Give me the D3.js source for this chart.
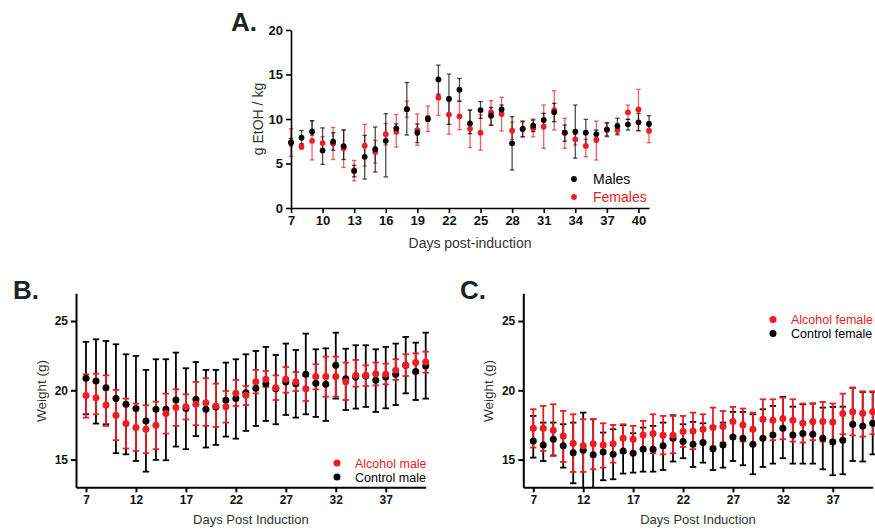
<!DOCTYPE html>
<html><head><meta charset="utf-8">
<script src="https://cdn.jsdelivr.net/npm/d3@7"></script>
<style>
body{margin:0;background:#fff;}
svg{display:block;font-family:"Liberation Sans",Arial,sans-serif;}
</style></head>
<body><svg id="c" width="875" height="531"></svg>
<script>
// ---------- Panel A data ----------
const daysA = [7,8,9,10,11,12,13,14,15,16,17,18,19,20,21,22,23,24,25,26,27,28,29,30,31,32,33,34,35,36,37,38,39,40,41];
const malesMean = [7.35,7.9,8.6,6.45,7.45,6.95,4.15,5.75,6.6,7.55,8.95,11.1,8.45,10.0,14.45,12.25,13.3,9.5,11.0,10.37,11.08,7.27,8.88,9.25,9.89,10.75,8.46,8.58,8.46,8.31,8.84,9.21,9.4,9.63,9.44];
const malesHi = [7.8,8.7,9.8,9.0,8.45,8.75,4.8,8.15,9.1,10.6,9.45,14.1,9.45,10.35,16.05,15.05,14.55,11.0,11.95,11.3,11.57,10.26,9.7,9.89,10.64,11.76,9.33,11.57,9.96,8.76,9.59,10.08,9.96,10.64,10.37];
const malesLo = [7.0,7.2,8.2,4.9,6.5,5.45,3.5,3.25,4.05,3.5,8.35,8.2,7.35,9.75,12.7,9.4,12.0,8.35,10.07,9.3,10.63,4.27,8.0,8.58,9.14,9.7,7.5,5.6,6.88,7.83,8.09,8.31,8.76,8.69,8.46];
const femalesMean = [7.4,6.9,7.55,7.3,7.25,6.7,4.25,7.0,6.3,8.3,8.6,11.1,8.75,10.1,12.4,10.5,10.3,8.9,8.46,10.75,10.56,8.69,8.9,8.95,9.14,11.0,8.46,7.72,6.97,7.64,8.76,8.76,10.75,11.08,8.69];
const femalesHi = [8.9,7.2,9.8,8.0,9.05,8.8,5.35,9.4,7.6,9.5,10.5,12.0,10.55,11.45,12.8,12.5,12.0,11.0,10.45,12.06,12.44,9.66,9.8,10.0,11.57,13.18,10.08,8.31,7.72,9.77,9.5,9.5,11.57,13.33,9.7];
const femalesLo = [5.8,6.6,5.4,6.7,5.45,4.55,3.05,4.7,5.05,7.1,6.85,10.2,7.05,8.6,10.4,8.3,8.8,6.8,6.52,9.3,8.65,7.72,8.0,8.0,6.7,8.76,6.7,7.08,5.77,5.39,8.0,8.2,9.96,8.69,7.34];
const ticksAx = [7,10,13,16,19,22,25,28,31,34,37,40];
const ticksAy = [0,5,10,15,20];

// ---------- Panel B data ----------
const daysB = daysA;
const ctrlMaleMean = [20.87,20.67,20.19,19.4,18.99,18.68,17.79,18.63,18.63,19.3,18.68,19.35,18.63,18.8,19.28,19.4,19.83,20.14,20.48,20.12,20.6,20.48,21.15,20.5,20.43,21.8,20.84,20.96,21.03,20.72,20.96,21.15,21.8,21.35,21.75];
const ctrlMaleHi = [23.5,23.68,23.56,23.32,22.6,22.48,21.47,22.24,22.24,22.72,21.59,22.04,21.47,21.47,22.0,22.24,22.6,22.84,23.13,22.55,23.37,22.91,24.09,22.96,23.03,24.16,23.0,23.25,23.25,22.96,23.13,23.37,23.85,23.44,24.16];
const ctrlMaleLo = [18.27,17.6,17.55,15.46,15.38,14.9,14.13,14.98,14.95,15.94,15.75,16.7,15.87,16.06,16.66,16.51,17.07,17.43,17.79,17.55,18.22,18.03,18.27,18.08,17.79,19.4,18.58,18.68,18.8,18.44,18.7,18.94,19.78,19.3,19.4];
const alcMaleMean = [19.62,19.47,18.94,18.2,17.6,17.31,17.19,17.48,18.32,18.75,18.82,18.99,19.11,18.87,18.82,19.78,19.64,20.62,20.79,20.19,20.79,20.62,20.12,20.99,20.99,20.99,20.62,21.08,21.08,21.2,21.15,21.44,21.8,22.0,22.04];
const alcMaleHi = [21.15,21.2,21.08,20.02,19.4,19.04,18.92,19.18,19.76,20.07,19.71,20.6,20.87,20.48,19.95,20.75,20.31,21.47,21.39,21.08,21.68,21.32,21.03,21.88,22.43,22.43,22.0,22.19,21.8,22.0,21.92,22.24,22.6,22.67,22.79];
const alcMaleLo = [18.03,18.27,17.43,16.4,15.8,15.62,15.46,15.75,16.88,17.43,17.9,17.48,17.43,17.36,17.67,18.87,18.94,19.78,20.24,19.3,19.83,19.95,19.23,20.07,19.54,19.54,19.3,20.26,20.31,20.36,20.43,20.75,21.03,21.27,21.27];

// ---------- Panel C data ----------
const daysC = daysA;
const ctrlFemMean = [16.35,16.06,16.47,15.99,15.5,15.67,15.34,15.55,15.38,15.62,15.46,15.75,15.75,15.99,16.54,16.3,16.11,16.23,15.79,16.06,16.63,16.54,16.11,16.54,16.78,17.26,16.78,16.88,16.83,16.54,16.27,16.39,17.55,17.43,17.62];
const ctrlFemHi = [18.15,17.67,17.67,17.55,17.67,18.39,17.91,16.95,17.19,17.48,16.9,17.31,17.43,17.67,18.2,17.55,17.72,17.62,17.43,17.67,18.44,18.44,18.27,18.63,18.87,19.52,18.82,18.99,19.04,18.75,18.8,18.82,20.19,19.88,19.88];
const ctrlFemLo = [15.14,14.9,15.3,14.42,13.29,12.62,12.62,13.51,13.58,13.99,14.06,14.13,14.13,14.25,14.86,15.1,14.47,14.78,14.25,14.42,14.9,14.59,13.94,14.47,14.71,15.1,14.71,14.71,14.71,14.3,13.87,13.94,14.9,14.86,15.38];
const alcFemMean = [17.26,17.26,17.12,16.71,16.18,15.99,16.15,16.06,16.15,16.54,16.47,16.78,16.88,16.75,16.75,17.02,17.07,17.19,17.31,17.38,17.74,17.5,17.19,17.91,17.84,17.96,17.84,17.62,17.74,17.74,17.72,18.32,18.46,18.34,18.46];
const alcFemHi = [18.63,18.87,18.99,18.51,18.27,17.91,17.91,17.62,17.5,17.55,17.43,17.79,18.27,18.15,18.15,18.15,18.39,18.27,18.75,18.51,18.8,18.68,18.39,19.35,19.35,19.47,19.35,19.04,19.06,19.16,19.04,19.76,20.19,19.93,19.93];
const alcFemLo = [15.87,15.62,15.26,14.83,14.11,14.11,14.3,14.42,14.78,15.5,15.5,15.75,15.46,15.38,15.46,15.91,15.75,16.11,15.94,16.23,16.71,16.3,16.06,16.47,16.4,16.47,16.3,16.23,16.4,16.3,16.4,16.83,16.75,16.66,16.83];
const ticksBCx = [7,12,17,22,27,32,37];
const ticksBCy = [15,20,25];

const RED = "#ec1c24", BLACK = "#000";
const svg = d3.select("#c");

function series(days, mean, lo, hi){ return days.map((d,i)=>({d, m:mean[i], lo:lo[i], hi:hi[i]})); }

function drawBars(g, data, x, y, color, cap, sw, op, clipBottom){
  const gg = g.append("g").attr("stroke", color).attr("stroke-width", sw).attr("stroke-opacity", op).attr("fill","none");
  data.forEach(p=>{
    const lo = clipBottom!==undefined ? Math.max(p.lo, clipBottom) : p.lo;
    gg.append("line").attr("x1", x(p.d)).attr("x2", x(p.d)).attr("y1", y(lo)).attr("y2", y(p.hi));
    gg.append("line").attr("x1", x(p.d)-cap).attr("x2", x(p.d)+cap).attr("y1", y(p.hi)).attr("y2", y(p.hi));
    if (clipBottom===undefined || p.lo > clipBottom)
      gg.append("line").attr("x1", x(p.d)-cap).attr("x2", x(p.d)+cap).attr("y1", y(p.lo)).attr("y2", y(p.lo));
  });
}
function drawPts(g, data, x, y, color, r){
  g.append("g").selectAll("circle").data(data).join("circle")
    .attr("cx", p=>x(p.d)).attr("cy", p=>y(p.m)).attr("r", r).attr("fill", color);
}
function styleAxis(ax, fs, sw){
  ax.select(".domain").attr("stroke","#000").attr("stroke-width", sw);
  ax.selectAll(".tick line").attr("stroke","#000").attr("stroke-width", sw);
  ax.selectAll(".tick text").attr("fill","#111").attr("font-weight","bold").attr("font-size", fs)
    .attr("font-family","'Liberation Sans',Arial,sans-serif");
}

// ================= Panel A =================
{
  const x = d3.scaleLinear().domain([7,41]).range([291,649]);
  const y = d3.scaleLinear().domain([0,20]).range([208,30]);
  const g = svg.append("g");
  const m = series(daysA, malesMean, malesLo, malesHi);
  const f = series(daysA, femalesMean, femalesLo, femalesHi);
  drawBars(g, f, x, y, RED, 2.2, 1.3, 0.7);
  drawBars(g, m, x, y, BLACK, 2.2, 1.3, 0.7);
  drawPts(g, f, x, y, RED, 2.9);
  drawPts(g, m, x, y, BLACK, 2.9);
  const ax = svg.append("g").attr("transform","translate(0,208)")
    .call(d3.axisBottom(x).tickValues(ticksAx).tickSize(5).tickPadding(3).tickSizeOuter(0));
  styleAxis(ax, 13, 1.6);
  const ay = svg.append("g").attr("transform","translate(291,0)")
    .call(d3.axisLeft(y).tickValues(ticksAy).tickSize(5).tickPadding(3).tickSizeOuter(0));
  styleAxis(ay, 13, 1.6);
  svg.append("text").attr("x",470).attr("y",248).attr("text-anchor","middle").attr("font-size",14).attr("fill","#333").text("Days post-induction");
  svg.append("text").attr("transform","translate(263,119) rotate(-90)").attr("text-anchor","middle").attr("font-size",14).attr("fill","#333").text("g EtOH / kg");
  svg.append("text").attr("x",231).attr("y",31).attr("font-size",26).attr("font-weight","bold").attr("fill","#222").text("A.");
  // legend
  svg.append("circle").attr("cx",574).attr("cy",179).attr("r",2.9).attr("fill",BLACK);
  svg.append("text").attr("x",593).attr("y",184).attr("font-size",14).attr("fill","#000").text("Males");
  svg.append("circle").attr("cx",574).attr("cy",197).attr("r",2.9).attr("fill",RED);
  svg.append("text").attr("x",593).attr("y",202).attr("font-size",14).attr("fill",RED).text("Females");
}

// ================= Panels B & C =================
function weightPanel(x0, x1, letter, lx, ctrl, alc, legend){
  const x = d3.scaleLinear().domain([6,41]).range([x0,x1]);
  const y = d3.scaleLinear().domain([13,27]).range([487.3,293.3]);
  const g = svg.append("g");
  drawBars(g, ctrl, x, y, BLACK, 3.2, 1.8, 1, 13);
  drawBars(g, alc, x, y, RED, 3.2, 1.8, 1, 13);
  drawPts(g, ctrl, x, y, BLACK, 3.5);
  drawPts(g, alc, x, y, RED, 3.5);
  const ax = svg.append("g").attr("transform","translate(0,487.3)")
    .call(d3.axisBottom(x).tickValues(ticksBCx).tickSize(5).tickPadding(3).tickSizeOuter(0));
  styleAxis(ax, 12, 2);
  const ay = svg.append("g").attr("transform",`translate(${x0},0)`)
    .call(d3.axisLeft(y).tickValues(ticksBCy).tickSize(5).tickPadding(3).tickSizeOuter(0));
  styleAxis(ay, 12, 2);
  svg.append("text").attr("x",(x0+x1)/2).attr("y",524).attr("text-anchor","middle").attr("font-size",13).attr("fill","#333").text("Days Post Induction");
  svg.append("text").attr("transform",`translate(${x0-30},391) rotate(-90)`).attr("text-anchor","middle").attr("font-size",13.5).attr("fill","#333").text("Weight (g)");
  svg.append("text").attr("x",lx).attr("y",299).attr("font-size",26).attr("font-weight","bold").attr("fill","#222").text(letter);
  legend.forEach(l=>{
    svg.append("circle").attr("cx",l.cx).attr("cy",l.cy).attr("r",3.5).attr("fill",l.color);
    svg.append("text").attr("x",l.cx+18).attr("y",l.cy+4.5).attr("font-size",12.5).attr("fill",l.color).text(l.label);
  });
}
weightPanel(76, 425.7, "B.", 13,
  series(daysB, ctrlMaleMean, ctrlMaleLo, ctrlMaleHi),
  series(daysB, alcMaleMean, alcMaleLo, alcMaleHi),
  [{cx:337, cy:463, color:RED, label:"Alcohol male"},{cx:337, cy:477, color:BLACK, label:"Control male"}]);
weightPanel(523.3, 872.7, "C.", 460,
  series(daysC, ctrlFemMean, ctrlFemLo, ctrlFemHi),
  series(daysC, alcFemMean, alcFemLo, alcFemHi),
  [{cx:773, cy:319.5, color:RED, label:"Alcohol female"},{cx:773, cy:333.5, color:BLACK, label:"Control female"}]);
</script></body></html>
